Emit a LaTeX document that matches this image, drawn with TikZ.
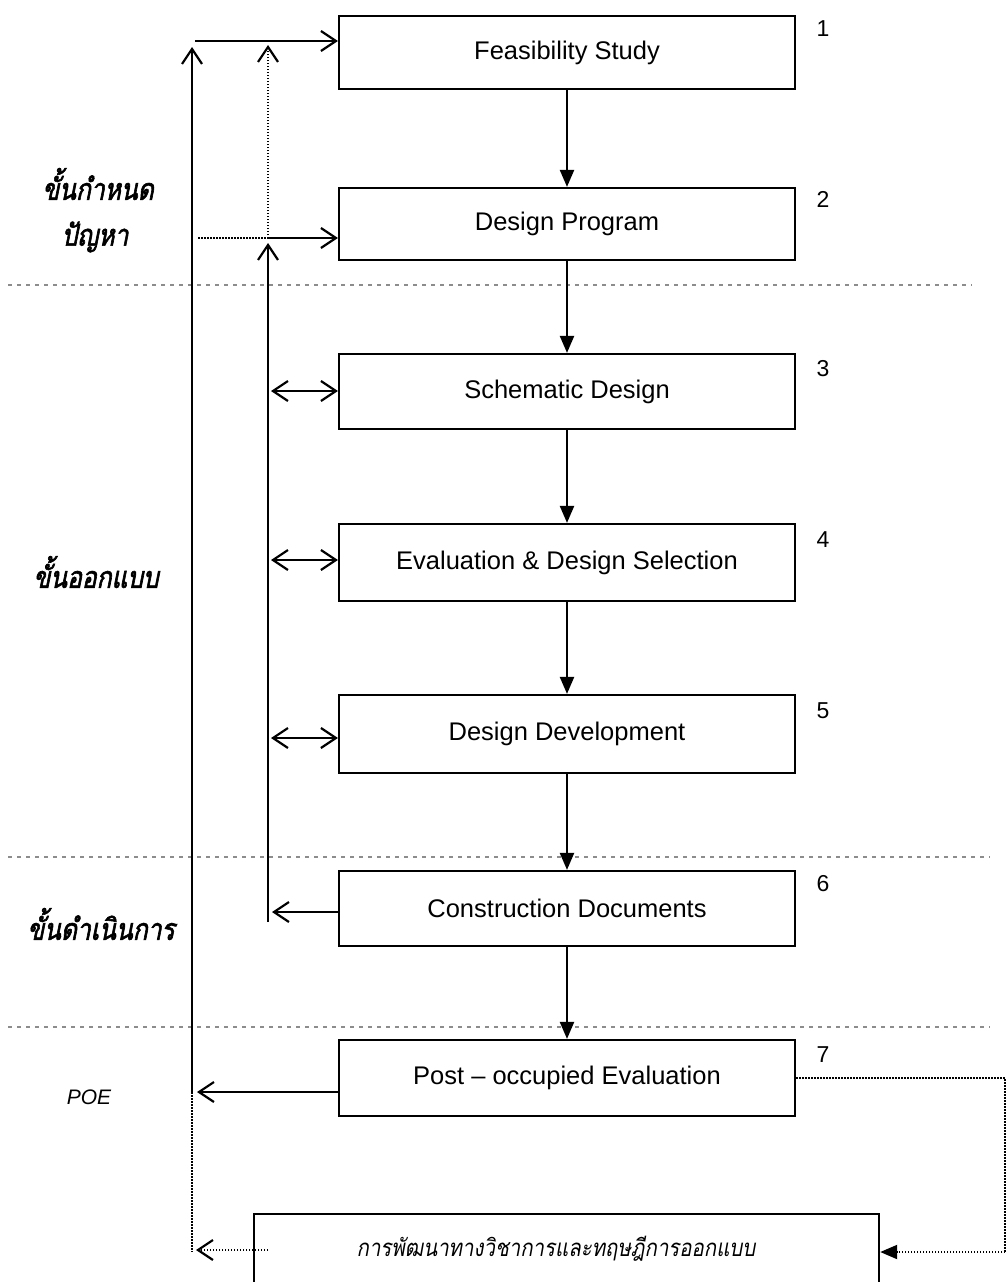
\documentclass[tikz,border=0pt]{standalone}
\usepackage{fontspec}
\setmainfont{Liberation Sans}
\newfontfamily\thaifont[Script=Thai,FakeSlant=0.2,FakeBold=2,FakeStretch=0.82]{Loma}
\newfontfamily\thaicond[Script=Thai,FakeSlant=0.18,FakeStretch=0.85]{Loma}
\usetikzlibrary{arrows.meta,calc}
\tikzset{
  box/.style={draw, line width=2.2pt, minimum width=456pt, inner sep=0pt, font=\fontsize{25.5}{30}\selectfont},
  numlbl/.style={font=\fontsize{23}{28}\selectfont, inner sep=0pt},
  thailbl/.style={font=\thaifont\fontsize{30}{34}\selectfont, inner sep=0pt},
  ln/.style={line width=2.2pt},
  dots/.style={line width=2pt, dash pattern=on 1.5pt off 1.5pt},
  sep/.style={line width=1.4pt, black!45, dash pattern=on 4pt off 5pt},
  barb/.style={-{Straight Barb[length=15pt,width=20pt,line width=2.2pt]}},
  dbarb/.style={{Straight Barb[length=15pt,width=20pt,line width=2.2pt]}-{Straight Barb[length=15pt,width=20pt,line width=2.2pt]}},
  tri/.style={-{Triangle[length=17pt,width=14pt]}},
}
\begin{document}
\begin{tikzpicture}[x=1pt,y=-1pt]
\clip (0,0) rectangle (1007,1282);
\fill[white] (0,0) rectangle (1007,1282);

% separators
\draw[sep] (8,285) -- (972,285);
\draw[sep] (8,857) -- (990,857);
\draw[sep] (8,1027) -- (990,1027);

% boxes
\node[box, minimum height=73pt] (b1) at (567,52.5) {Feasibility Study};
\node[box, minimum height=72pt] (b2) at (567,224) {Design Program};
\node[box, minimum height=75pt] (b3) at (567,391.5) {Schematic Design};
\node[box, minimum height=77pt] (b4) at (567,562.5) {Evaluation \& Design Selection};
\node[box, minimum height=78pt] (b5) at (567,734) {Design Development};
\node[box, minimum height=75pt] (b6) at (567,908.5) {Construction Documents};
\node[box, minimum height=76pt] (b7) at (567,1078) {Post -- occupied Evaluation};
\node[draw, line width=2.2pt, minimum width=625pt, minimum height=120pt, anchor=north west, inner sep=0pt] (bb) at (253,1213) {};
\node[font=\thaicond\fontsize{24}{28}\selectfont, inner sep=0pt] (bt) at (556,1249) {การพัฒนาทางวิชาการและทฤษฎีการออกแบบ};

% numbers
\node[numlbl] (n1) at (823,29) {1};
\node[numlbl] (n2) at (823,199) {2};
\node[numlbl] (n3) at (823,369) {3};
\node[numlbl] (n4) at (823,540) {4};
\node[numlbl] (n5) at (823,711) {5};
\node[numlbl] (n6) at (823,884) {6};
\node[numlbl] (n7) at (823,1055) {7};

% left labels
\node[thailbl] (l1) at (98,184) {ขั้นกำหนด};
\node[thailbl] (l2) at (95,237) {ปัญหา};
\node[thailbl] (l3) at (96,572) {ขั้นออกแบบ};
\node[thailbl] (l4) at (101,924) {ขั้นดำเนินการ};
\node[font=\itshape\fontsize{21}{25}\selectfont, inner sep=0pt] (poe) at (89,1097) {POE};

% coordinates
\coordinate (oTop) at (192,47);
\coordinate (oH) at (195,41);
\coordinate (o7) at (192,1092);
\coordinate (oBot) at (192,1252);
\coordinate (iTop) at (268,45);
\coordinate (iMid) at (268,238);
\coordinate (iMidL) at (198,238);
\coordinate (iArr) at (268,243);
\coordinate (iBot) at (268,922);
\coordinate (r1) at (1005,1078);
\coordinate (r2) at (1005,1252);

% down arrows
\foreach \a/\b in {b1/b2,b2/b3,b3/b4,b4/b5,b5/b6,b6/b7}
  \draw[ln,tri] (\a.south) -- (\b.north);

% outer trunk
\draw[ln,barb] (o7) -- (oTop);
\draw[ln,barb] (oH) -- (oH -| b1.west);
\draw[ln,barb] (b7.west |- o7) -- ($(o7)+(5,0)$);
\draw[dots] (o7) -- (oBot);
\draw[dots,barb] (bb.west |- 0,1250) ++(15,0) -- (196,1250);

% inner trunk
\draw[dots,barb] (iMid) -- (iTop);
\draw[dots] (iMidL) -- (iMid);
\draw[ln,barb] (iMid) -- (iMid -| b2.west);
\draw[ln,barb] (iBot) -- (iArr);
\draw[ln,barb] (b6.west |- 0,912) -- (272,912);
\draw[ln,dbarb] (271,391) -- (b3.west |- 0,391);
\draw[ln,dbarb] (271,560) -- (b4.west |- 0,560);
\draw[ln,dbarb] (271,738) -- (b5.west |- 0,738);

% right feedback
\draw[dots] (b7.east) -- (r1) -- (r2);
\draw[dots,tri] (r2) -- (bb.east |- r2);
\end{tikzpicture}
\end{document}
